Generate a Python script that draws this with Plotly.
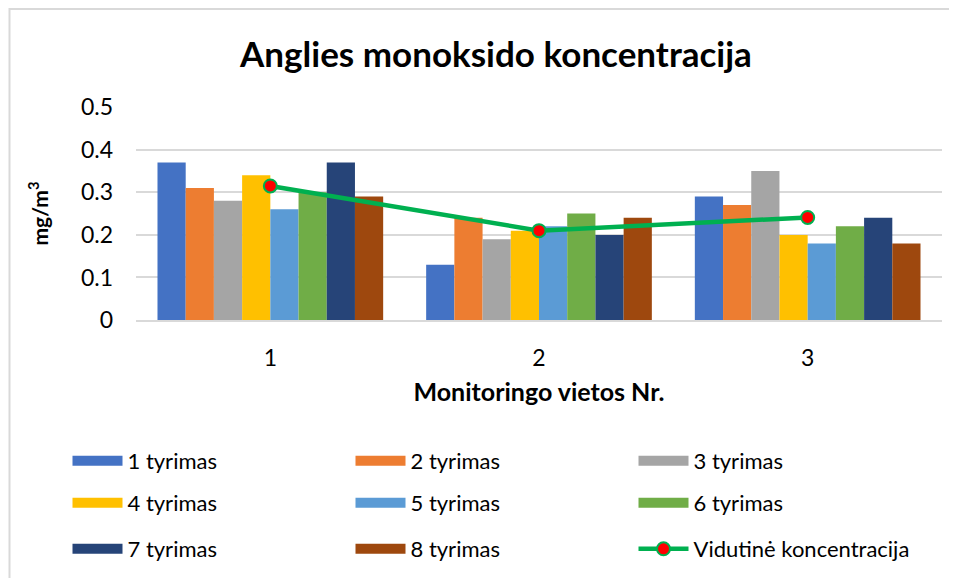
import plotly.graph_objects as go

categories = ["1", "2", "3"]
series_names = ["1 tyrimas", "2 tyrimas", "3 tyrimas", "4 tyrimas",
                "5 tyrimas", "6 tyrimas", "7 tyrimas", "8 tyrimas"]
tyrimas_1 = [0.37, 0.13, 0.29]
tyrimas_2 = [0.31, 0.24, 0.27]
tyrimas_3 = [0.28, 0.19, 0.35]
tyrimas_4 = [0.34, 0.21, 0.20]
tyrimas_5 = [0.26, 0.22, 0.18]
tyrimas_6 = [0.30, 0.25, 0.22]
tyrimas_7 = [0.37, 0.20, 0.24]
tyrimas_8 = [0.29, 0.24, 0.18]
vidutine = [0.315, 0.21, 0.241]
avg_name = "Vidutinė koncentracija"
y_ticks = [0, 0.1, 0.2, 0.3, 0.4, 0.5]
y_tick_text = ["0", "0.1", "0.2", "0.3", "0.4", "0.5"]

series_values = [tyrimas_1, tyrimas_2, tyrimas_3, tyrimas_4,
                 tyrimas_5, tyrimas_6, tyrimas_7, tyrimas_8]
colors = ["#4472C4", "#ED7D31", "#A5A5A5", "#FFC000",
          "#5B9BD5", "#70AD47", "#264478", "#9E480E"]

FONT = "Lato"
W, H = 957, 578
# plot area in figure pixels (page adds an 8px body margin)
L, T, PW, PH = 128, 99, 806, 213
B = T + PH


def py(y_px):
    return (B - y_px) / PH


def px(x_px):
    return (x_px - L) / PW


fig = go.Figure()

for name, vals, col in zip(series_names, series_values, colors):
    fig.add_trace(go.Bar(x=categories, y=vals, name=name, marker_color=col,
                         marker_line_width=0, showlegend=False))

fig.add_trace(go.Scatter(x=categories, y=vidutine, name=avg_name, mode="lines+markers",
                         line=dict(color="#00B050", width=4.5),
                         marker=dict(color="#FF0000", size=13,
                                     line=dict(color="#00B050", width=2)),
                         showlegend=False))

# legend entries (three rows, three columns)
legend_ids = ["legend", "legend", "legend", "legend2", "legend2", "legend2",
              "legend3", "legend3"]
for name, col, lg in zip(series_names, colors, legend_ids):
    fig.add_trace(go.Scatter(x=[None], y=[None], mode="lines", name=name,
                             line=dict(color=col, width=14), legend=lg,
                             hoverinfo="skip"))
fig.add_trace(go.Scatter(x=[None], y=[None], mode="lines+markers", name=avg_name,
                         line=dict(color="#00B050", width=4.5),
                         marker=dict(color="#FF0000", size=13,
                                     line=dict(color="#00B050", width=2)),
                         legend="legend3", hoverinfo="skip"))

leg_common = dict(orientation="h", entrywidth=218, entrywidthmode="pixels",
                  itemwidth=50, font=dict(family=FONT, size=22, color="#000000"),
                  x=px(59.5), xanchor="left", yanchor="middle",
                  bgcolor="rgba(0,0,0,0)", traceorder="normal")

fig.update_layout(
    width=W, height=H,
    margin=dict(l=L, r=W - L - PW, t=T, b=H - B, autoexpand=False),
    paper_bgcolor="white", plot_bgcolor="white",
    barmode="group", bargap=0.16, bargroupgap=0,
    font=dict(family=FONT, size=18, color="#000000"),
    title=dict(text="<b>Anglies monoksido koncentracija</b>",
               font=dict(family=FONT, size=35, color="#000000"),
               x=488 / W, xref="container", xanchor="center",
               y=1 - 47 / H, yref="container", yanchor="middle"),
    xaxis=dict(showgrid=False, showline=True, linecolor="#D9D9D9", linewidth=1.5,
               ticks="", tickfont=dict(family=FONT, size=23),
               ticklabelstandoff=17,
               title=dict(text="<b>Monitoringo vietos Nr.</b>",
                          font=dict(family=FONT, size=25), standoff=13)),
    yaxis=dict(range=[0, 0.5005], tickvals=y_ticks, ticktext=y_tick_text,
               showgrid=True, gridcolor="#D9D9D9", gridwidth=1.5,
               zeroline=False, showline=False, ticks="",
               tickfont=dict(family=FONT, size=23), ticklabelstandoff=22,
               title=dict(text="<b>mg/m<sup>3</sup></b>",
                          font=dict(family=FONT, size=21), standoff=26)),
    legend=dict(y=py(453), **leg_common),
    legend2=dict(y=py(495), **leg_common),
    legend3=dict(y=py(541), **leg_common),
    shapes=[dict(type="rect", xref="paper", yref="paper",
                 x0=px(1.5), x1=px(W + 20), y0=py(H + 20), y1=py(1),
                 line=dict(color="#D9D9D9", width=2), fillcolor="rgba(0,0,0,0)",
                 layer="below")],
)

fig.write_html("out.html")
